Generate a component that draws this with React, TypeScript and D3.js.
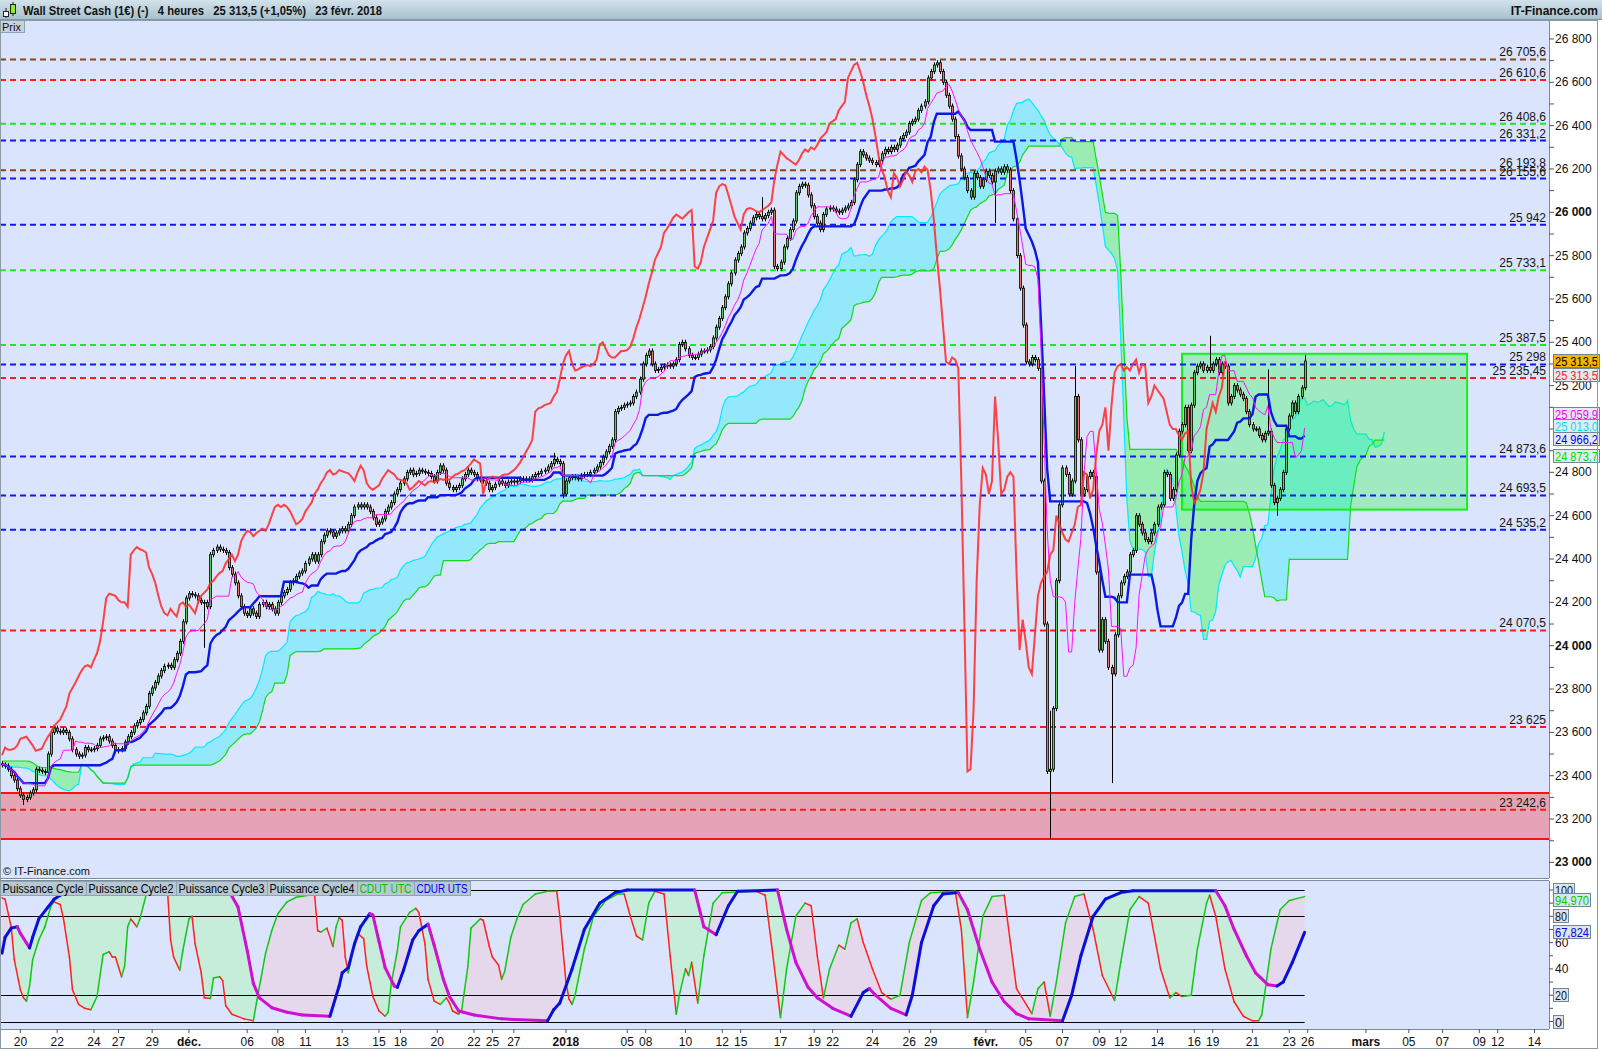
import * as d3 from "d3";

const FONT = "'Liberation Sans', Arial, sans-serif";

// 4h closes, 17 nov 2017 -> 23 feb 2018
const closes = [
  23450, 23445, 23430, 23400, 23380, 23340, 23310, 23290, 23300, 23320,
  23335, 23430, 23425, 23420, 23415, 23500, 23600, 23620, 23605, 23600,
  23610, 23600, 23570, 23520, 23500, 23490, 23495, 23530, 23520, 23520,
  23525, 23540, 23570, 23575, 23580, 23560, 23540, 23515, 23520, 23525,
  23555, 23580, 23600, 23630, 23645, 23660, 23690, 23720, 23780, 23805,
  23830, 23860, 23885, 23905, 23910, 23900, 23935, 23965, 24020, 24110,
  24220, 24240, 24235, 24230, 24210, 24200, 24200, 24180, 24420, 24440,
  24455, 24445, 24440, 24430, 24360, 24330, 24290, 24230, 24180, 24150,
  24140, 24170, 24150, 24135, 24190, 24200, 24180, 24190, 24170, 24150,
  24200, 24230, 24245, 24260, 24290, 24300, 24320, 24335, 24345, 24380,
  24400, 24420, 24390, 24420, 24480, 24510, 24530, 24525, 24505, 24520,
  24530, 24540, 24530, 24560, 24600, 24640, 24650, 24640, 24650, 24640,
  24620, 24590, 24560, 24570, 24585, 24620, 24640, 24660, 24700, 24720,
  24750, 24770, 24800, 24810, 24790, 24795, 24810, 24805, 24800, 24795,
  24780, 24760, 24800, 24830, 24810, 24750, 24730, 24720, 24730, 24740,
  24770, 24790, 24810, 24800, 24790, 24770, 24765, 24760, 24750, 24720,
  24730, 24745, 24760, 24750, 24740, 24755, 24760, 24755, 24760, 24770,
  24765, 24770, 24765, 24780, 24790, 24795, 24805, 24810, 24825, 24840,
  24860, 24850, 24840, 24700, 24760, 24775, 24780, 24775, 24770, 24785,
  24790, 24790, 24800, 24810, 24825, 24845, 24870, 24895, 24920, 24950,
  25080, 25095, 25100, 25110, 25115, 25120, 25150, 25170, 25230, 25300,
  25340, 25360, 25300, 25270, 25275, 25285, 25290, 25295, 25290, 25300,
  25320, 25390, 25400, 25370, 25340, 25330, 25330, 25345, 25360, 25360,
  25365, 25380, 25420, 25470, 25510, 25560, 25610, 25670, 25720, 25780,
  25810, 25840, 25905, 25925, 25950, 25975, 25990, 25980, 25970, 25985,
  26000, 26010, 25750, 25740, 25770, 25840, 25880, 25920, 25960, 26090,
  26120, 26130, 26125, 26080, 26030, 25980, 25950, 25920, 25990, 26015,
  26020, 26015, 26005, 26000, 26010, 26020, 26030, 26045, 26150, 26220,
  26280, 26265, 26250, 26240, 26230, 26220, 26240, 26270, 26290, 26280,
  26300, 26290, 26310, 26340, 26355, 26370, 26410, 26420, 26430, 26470,
  26490, 26510, 26620, 26650, 26680, 26690, 26650, 26600, 26540, 26490,
  26430, 26350, 26260, 26200, 26160, 26100, 26070, 26180, 26160, 26120,
  26150, 26190, 26170, 26140, 26190, 26200, 26185, 26210, 26195, 26100,
  25970, 25800, 25650, 25480, 25310, 25300, 25330, 25320, 25280, 24760,
  24100, 23420, 23430, 23710, 24300, 24650, 24820, 24790, 24700, 24760,
  25150, 24950, 24700, 24720, 24780, 24800, 24780, 24340, 23980, 24120,
  24020, 23900, 23870, 24050, 24230, 24290, 24320, 24340, 24420, 24440,
  24600, 24560, 24520, 24490, 24480, 24520, 24560, 24640, 24650, 24800,
  24790, 24680, 24720, 24880, 24990, 25020, 25100, 24900, 25110, 25260,
  25290, 25300, 25270, 25285, 25270, 25300, 25320, 25260, 25300, 25290,
  25120, 25150, 25200, 25180, 25160, 25140, 25080, 25020, 25000, 25000,
  24970, 24950, 24980, 24990, 24740, 24660, 24680, 24720, 24800, 25000,
  25060, 25120, 25080, 25150, 25190, 25313.5,
];
const firstOpen = 23455;

// notable shadows: [bar, high, low] (0 = ordinary)
const wicks: [number, number, number][] = [
  [7, 0, 23265], [66, 0, 23990], [183, 0, 24680], [180, 24890, 0], [248, 26070, 0],
  [324, 0, 25950], [342, 23700, 23110], [350, 25290, 0], [362, 0, 23366],
  [394, 25430, 0], [413, 25275, 0], [416, 0, 24600], [425, 25340, 0],
];

// cloud values for the first 26 bars (projected from before the window)
const spanAHead = [
  23445, 23445, 23445, 23440, 23440, 23440, 23438, 23436, 23435, 23430,
  23420, 23415, 23405, 23400, 23400, 23398, 23385, 23370, 23355, 23345,
  23338, 23332, 23330, 23340, 23355, 23360,
];
const spanBHead = [
  23468, 23468, 23468, 23468, 23468, 23468, 23468, 23468, 23468, 23466,
  23460, 23450, 23440, 23438, 23438, 23438, 23436, 23434, 23430, 23428,
  23425, 23420, 23418, 23416, 23416, 23416,
];

const levelValues = [26705.6, 26610.6, 26408.6, 26331.2, 26193.8, 26155.6, 25942, 25733.1, 25387.5, 25298, 25235.45, 24873.6, 24693.5, 24535.2, 24070.5, 23625, 23242.6];
const levelKinds = ["brown", "red", "green", "blue", "brown", "blue", "blue", "green", "green", "blue", "red", "blue", "blue", "blue", "red", "red", "red"];
const kindColor: Record<string, string> = { brown: "#8a4710", red: "#ff1a1a", green: "#1ee81e", blue: "#1414ff" };

// 25 000 is hidden behind the indicator tags in the original
const priceTicks = [23000, 23200, 23400, 23600, 23800, 24000, 24200, 24400, 24600, 24800, 25200, 25400, 25600, 25800, 26000, 26200, 26400, 26600, 26800];
const boldTicks = [23000, 24000, 26000];

const dateTicks: [string, number, boolean][] = [
  ["20", 6, false], ["22", 18, false], ["24", 30, false], ["27", 38, false], ["29", 49, false],
  ["déc.", 61, true], ["06", 80, false], ["08", 90, false], ["11", 99, false], ["13", 111, false],
  ["15", 123, false], ["18", 130, false], ["20", 142, false], ["22", 154, false], ["25", 160, false],
  ["27", 167, false], ["2018", 184, true], ["05", 204, false], ["08", 210, false], ["10", 223, false],
  ["12", 235, false], ["15", 241, false], ["17", 254, false], ["19", 265, false], ["22", 271, false],
  ["24", 284, false], ["26", 296, false], ["29", 303, false], ["févr.", 321, true], ["05", 334, false],
  ["07", 346, false], ["09", 358, false], ["12", 365, false], ["14", 377, false], ["16", 389, false],
  ["19", 395, false], ["21", 408, false], ["23", 420, false], ["26", 426, false], ["mars", 445, true],
  ["05", 459, false], ["07", 470, false], ["09", 482, false], ["12", 488, false], ["14", 500, false],
];

// oscillator: fast cycle (green up / red down), slow cycle (blue up / magenta down)
const fastPts: [number, number][] = [
  [0, 94], [1, 93], [3, 72], [4, 47], [6, 24], [7, 18], [8, 15.5], [9, 27], [10, 47], [12, 62], [14, 72], [16, 88], [17, 91],
  [19, 89], [20, 79], [22, 49], [23, 24], [25, 13], [27, 10], [29, 9], [31, 19], [33, 51], [35, 53], [36, 49], [37, 49],
  [39, 34], [40, 42], [41, 72], [42, 78], [44, 72], [45, 78], [47, 96], [48, 99.5], [54, 99.5], [55, 62], [56, 49], [58, 39],
  [59, 54], [61, 78], [62, 80], [63, 59], [65, 37], [66, 18], [68, 17.5], [69, 33], [71, 34], [72, 31], [73, 12], [75, 5.5],
  [79, 2], [82, 0.5], [83, 14], [86, 52], [88, 69], [90, 82], [93, 91], [96, 94.5], [100, 96], [102, 96], [103, 69], [104, 68],
  [106, 71], [108, 57], [109, 72], [110, 79], [111, 77], [112, 49], [113, 37], [115, 60], [116, 67], [118, 63], [119, 42],
  [121, 19], [123, 8], [125, 4], [126, 7], [127, 29], [129, 54], [130, 72], [133, 83], [135, 86], [136, 83], [138, 59],
  [139, 32], [141, 15.5], [143, 13], [145, 18], [146, 14], [147, 8], [149, 5.5], [150, 9], [152, 42], [153, 71], [156, 78],
  [157, 77], [159, 57], [160, 49], [162, 43], [163, 32], [164, 38], [166, 64], [168, 78], [170, 89], [174, 97], [178, 99],
  [181, 99], [182, 80], [183, 55], [184, 30], [185, 17], [186, 13], [187, 20], [190, 55], [193, 80], [197, 92], [201, 97],
  [203, 97], [205, 80], [207, 65], [209, 62], [211, 90], [213, 99], [216, 97], [218, 50], [220, 5.5], [221, 20], [223, 40],
  [224, 35], [225, 45], [227, 14], [229, 50], [232, 90], [235, 98], [246, 99], [249, 96], [251, 60], [254, 3], [256, 40],
  [259, 80], [262, 90], [264, 88], [266, 50], [268, 18], [270, 40], [273, 58], [275, 55], [277, 75], [279, 78], [281, 60],
  [284, 40], [287, 22], [290, 17], [293, 20], [296, 60], [300, 92], [303, 98], [311, 99], [313, 70], [315, 3], [317, 30],
  [320, 80], [323, 95], [327, 96], [329, 60], [331, 25], [336, 6], [338, 25], [340, 30], [342, 4], [344, 30], [347, 75],
  [350, 95], [353, 97], [356, 70], [359, 35], [363, 16], [365, 45], [368, 85], [371, 95], [374, 90], [378, 40], [381, 18],
  [383, 22], [385, 19], [388, 20], [390, 55], [393, 90], [394, 96], [396, 80], [399, 40], [402, 15], [405, 4], [408, 0.5],
  [410, 0.5], [411, 5], [414, 55], [417, 85], [420, 92], [425, 94.97],
];
const slowPts: [number, number][] = [
  [0, 52], [1, 64], [3, 71], [5, 72], [6, 67], [9, 56], [10, 64], [12, 78], [15, 87], [17, 93], [19, 96], [22, 99.5],
  [74, 99.5], [77, 87], [80, 54], [82, 29], [84, 18], [88, 10.5], [93, 7], [98, 5], [107, 4], [110, 27], [111, 37], [113, 41],
  [115, 59], [117, 72], [120, 82], [121, 81], [123, 61], [125, 41], [128, 27], [129, 26], [131, 39], [134, 62], [136, 69],
  [139, 74], [141, 58], [144, 32], [146, 19], [149, 8], [154, 5], [163, 2], [178, 0.5], [180, 9], [182, 14], [186, 40],
  [190, 70], [195, 90], [200, 98], [204, 100], [226, 100], [229, 72], [233, 66], [237, 88], [240, 99], [253, 100], [256, 70],
  [259, 45], [263, 26], [266, 18], [271, 10], [277, 4], [281, 22], [283, 25], [285, 20], [290, 10], [295, 5], [297, 20],
  [300, 60], [304, 88], [307, 97], [312, 98], [315, 85], [319, 55], [323, 30], [327, 15], [331, 6], [335, 2], [346, 0.5],
  [349, 20], [352, 50], [356, 80], [360, 93], [365, 98], [369, 99.5], [396, 99.5], [399, 88], [402, 70], [406, 50],
  [409, 37], [413, 28], [416, 27], [418, 30], [421, 45], [425, 67.82],
];
const oscLines = [100, 80, 20, 0];
const oscTicks = [0, 10, 20, 30, 40, 50, 60, 70, 80, 90, 100];
const legendTabs = ["Puissance Cycle", "Puissance Cycle2", "Puissance Cycle3", "Puissance Cycle4", "CDUT UTC", "CDUR UTS"];
const legendColors = ["#000", "#000", "#000", "#000", "#00c000", "#0000ee"];
const legendWidths = [86, 90, 91, 90, 57, 56];

const zone = [23108, 23320];
const box = { from: 385, to: 478, top: 25347, bottom: 24628 };

const W = 1602;
const AXIS_X = 1549;
const MAIN_TOP = 20;
const MAIN_BOTTOM = 878;
const OSC_TOP = 881;
const OSC_BOTTOM = 1029;
const BG = "#dae4fc";

const x = d3.scaleLinear().domain([0, 500]).range([2, 2 + 500 * 3.065]);
const y = d3.scaleLinear().domain([23000, 26000]).range([862.4, 212.3]);
const yo = d3.scaleLinear().domain([0, 100]).range([1021.5, 890]);

const wickMap = new Map(wicks.map((w) => [w[0], w]));
const bars = closes.map((c, i) => {
  const o = i === 0 ? firstOpen : closes[i - 1];
  let h = Math.max(o, c) + 12;
  let l = Math.min(o, c) - 12;
  const w = wickMap.get(i);
  if (w) {
    if (w[1]) h = w[1];
    if (w[2]) l = w[2];
  }
  return { i, o, c, h, l };
});

function mid(i: number, n: number) {
  const s = bars.slice(Math.max(0, i - n + 1), i + 1);
  return ((d3.max(s, (d) => d.h) as number) + (d3.min(s, (d) => d.l) as number)) / 2;
}
const tenkan = bars.map((b) => mid(b.i, 9));
const kijun = bars.map((b) => mid(b.i, 26));
const spanA = [...spanAHead, ...bars.map((b) => (tenkan[b.i] + kijun[b.i]) / 2)];
const spanB = [...spanBHead, ...bars.map((b) => mid(b.i, 52))];
const chikou = closes.slice(26);

function frNum(v: number) {
  const [ip, dp] = String(v).split(".");
  const n = Number(ip);
  const s = n >= 1000 ? `${Math.floor(n / 1000)} ${String(n % 1000).padStart(3, "0")}` : ip;
  return dp ? `${s},${dp}` : s;
}

function Segments({ pts, up, down, width }: { pts: [number, number][]; up: string; down: string; width: number }) {
  let last = up;
  return (
    <g>
      {pts.slice(1).map((p, k) => {
        const q = pts[k];
        const col = p[1] > q[1] ? up : p[1] < q[1] ? down : last;
        last = col;
        return (
          <line key={k} x1={x(q[0])} y1={yo(q[1])} x2={x(p[0])} y2={yo(p[1])} stroke={col} strokeWidth={width} strokeLinecap="round" />
        );
      })}
    </g>
  );
}

function Tag({ x0, yc, text, color, bg, w }: { x0: number; yc: number; text: string; color: string; bg: string; w: number }) {
  return (
    <g>
      <rect x={x0 + 0.5} y={Math.round(yc - 7) + 0.5} width={w} height={13} fill={bg} stroke="#6f8797" strokeWidth={1} />
      <text x={x0 + 2} y={Math.round(yc - 7) + 11.5} fontSize={12} fontFamily={FONT} fill={color} textLength={w - 3} lengthAdjust="spacingAndGlyphs">
        {text}
      </text>
    </g>
  );
}

export default function App() {
  const lineA = d3.line<number>().x((_, j) => x(j)).y((d) => y(d));
  const cyanArea = d3.area<number>().x((_, j) => x(j)).y0((_, j) => y(spanB[j])).y1((d, j) => y(Math.max(d, spanB[j])));
  const greenArea = d3.area<number>().x((_, j) => x(j)).y0((_, j) => y(spanA[j])).y1((d, j) => y(Math.max(d, spanA[j])));
  const barLine = d3.line<number>().x((_, i) => x(i)).y((d) => y(d));

  const below = d3.area<[number, number]>().x((d) => x(d[0])).y0(yo(-5)).y1((d) => yo(d[1]));
  const above = d3.area<[number, number]>().x((d) => x(d[0])).y0(yo(105)).y1((d) => yo(d[1]));

  const tabX = legendWidths.map((_, k) => d3.sum(legendWidths.slice(0, k)));

  return (
    <svg width={W} height={1050} style={{ position: "absolute", left: 0, top: 0, background: "#fff" }}>
      <defs>
        <linearGradient id="hdr" x1="0" y1="0" x2="0" y2="1">
          <stop offset="0" stopColor="#d2e2ea" />
          <stop offset="1" stopColor="#a6c0cc" />
        </linearGradient>
        <clipPath id="mainClip">
          <rect x={0} y={MAIN_TOP} width={AXIS_X} height={MAIN_BOTTOM - MAIN_TOP} />
        </clipPath>
        <clipPath id="oscClip">
          <rect x={0} y={OSC_TOP} width={AXIS_X} height={OSC_BOTTOM - OSC_TOP} />
        </clipPath>
        <clipPath id="aboveFast">
          <path d={above(fastPts) || ""} />
        </clipPath>
        <clipPath id="aboveSlow">
          <path d={above(slowPts) || ""} />
        </clipPath>
      </defs>

      {/* header */}
      <rect x={0} y={0} width={W} height={20} fill="url(#hdr)" />
      <line x1={0} y1={19.5} x2={W} y2={19.5} stroke="#7f98a6" />
      <g>
        <line x1={6} y1={8} x2={6} y2={18} stroke="#222" />
        <rect x={3.5} y={11.5} width={5} height={5} fill="#fff" stroke="#222" />
        <line x1={13} y1={2} x2={13} y2={16} stroke="#222" />
        <rect x={10.5} y={4.5} width={5} height={9} fill="#8ef02a" stroke="#222" />
      </g>
      <text x={23} y={15} fontSize={12} fontWeight="bold" fontFamily={FONT} fill="#111" textLength={359} lengthAdjust="spacingAndGlyphs" style={{ whiteSpace: "pre" }}>
        {"Wall Street Cash (1€) (-)   4 heures   25 313,5 (+1,05%)   23 févr. 2018"}
      </text>
      <text x={1598} y={15} fontSize={12} fontWeight="bold" fontFamily={FONT} fill="#111" textAnchor="end">IT-Finance.com</text>

      {/* main panel */}
      <rect x={0} y={MAIN_TOP} width={AXIS_X} height={MAIN_BOTTOM - MAIN_TOP} fill={BG} />
      <g clipPath="url(#mainClip)">
        <rect x={0} y={y(zone[1])} width={AXIS_X} height={y(zone[0]) - y(zone[1])} fill="rgba(255,0,0,0.28)" />
        <line x1={0} x2={AXIS_X} y1={y(zone[1])} y2={y(zone[1])} stroke="#ff1010" strokeWidth={2} />
        <line x1={0} x2={AXIS_X} y1={y(zone[0])} y2={y(zone[0])} stroke="#ff1010" strokeWidth={2} />

        <path d={cyanArea(spanA) || ""} fill="#93e9fb" />
        <path d={greenArea(spanB) || ""} fill="#99ecb2" />
        <path d={lineA(spanA) || ""} fill="none" stroke="#00eaff" strokeWidth={1.2} />
        <path d={lineA(spanB) || ""} fill="none" stroke="#12dc12" strokeWidth={1.2} />

        <rect x={x(box.from)} y={y(box.top)} width={x(box.to) - x(box.from)} height={y(box.bottom) - y(box.top)} fill="rgba(0,250,30,0.27)" stroke="#18ee18" strokeWidth={2} />

        {levelValues.map((v, k) => (
          <g key={k}>
            <line x1={0} x2={AXIS_X} y1={y(v)} y2={y(v)} stroke={kindColor[levelKinds[k]]} strokeWidth={2} strokeDasharray="6 4" />
            <text x={1546} y={y(v) - 3} fontSize={12} fontFamily={FONT} fill="#151515" textAnchor="end">{frNum(v)}</text>
          </g>
        ))}

        {bars.map((b) => {
          const cx = Math.round(x(b.i));
          const top = y(Math.max(b.o, b.c));
          const h = Math.max(1, Math.abs(y(b.o) - y(b.c)));
          return (
            <g key={b.i}>
              <line x1={cx + 0.5} x2={cx + 0.5} y1={y(b.h)} y2={y(b.l)} stroke="#000" strokeWidth={1} />
              <rect x={cx - 0.5} y={top} width={2} height={h} fill={b.c >= b.o ? "#5fc85f" : "#e0796c"} stroke="#000" strokeWidth={0.8} />
            </g>
          );
        })}

        <path d={barLine(kijun) || ""} fill="none" stroke="#0c18e4" strokeWidth={2.4} />
        <path d={barLine(tenkan) || ""} fill="none" stroke="#ff10ff" strokeWidth={1} />
        <path d={barLine(chikou) || ""} fill="none" stroke="#ff3030" strokeWidth={2} strokeOpacity={0.9} />
      </g>
      <text x={3} y={875} fontSize={11} fontFamily={FONT} fill="#111">© IT-Finance.com</text>
      <rect x={0.5} y={20.5} width={24} height={12} fill="#c6d3dc" stroke="#8da2b0" />
      <text x={2} y={30.5} fontSize={11} fontFamily={FONT} fill="#111">Prix</text>

      {/* price axis */}
      <line x1={AXIS_X + 0.5} x2={AXIS_X + 0.5} y1={MAIN_TOP} y2={MAIN_BOTTOM} stroke="#7a8c99" />
      <line x1={0} x2={AXIS_X} y1={MAIN_BOTTOM + 0.5} y2={MAIN_BOTTOM + 0.5} stroke="#7a8c99" />
      {d3.range(23000, 26801, 100).map((v) => (
        <line key={v} x1={AXIS_X} x2={AXIS_X + 5} y1={y(v)} y2={y(v)} stroke="#555" />
      ))}
      {priceTicks.map((v) => (
        <text key={v} x={AXIS_X + 6} y={y(v) + 4} fontSize={12} fontFamily={FONT} fontWeight={boldTicks.includes(v) ? "bold" : "normal"} fill="#111">
          {frNum(v)}
        </text>
      ))}
      <Tag x0={1553} yc={y(25313.5)} text="25 313,5" color="#000" bg="#f5b500" w={46} />
      <Tag x0={1553} yc={y(25313.5) + 14} text="25 313,5" color="#ff2020" bg="#e3eaf2" w={46} />
      <Tag x0={1553} yc={y(25059.9) - 2} text="25 059,9" color="#ff00ff" bg="#e3eaf2" w={46} />
      <Tag x0={1553} yc={y(25013.0)} text="25 013,0" color="#00e0f0" bg="#e3eaf2" w={46} />
      <Tag x0={1553} yc={y(24966.2) + 3} text="24 966,2" color="#0000ee" bg="#e3eaf2" w={46} />
      <Tag x0={1553} yc={y(24873.7)} text="24 873,7" color="#00dd00" bg="#e3eaf2" w={46} />

      {/* oscillator panel */}
      <rect x={0} y={OSC_TOP} width={AXIS_X} height={OSC_BOTTOM - OSC_TOP} fill={BG} />
      <g clipPath="url(#oscClip)">
        <path d={below(slowPts) || ""} fill="#c6ecda" clipPath="url(#aboveFast)" />
        <path d={below(fastPts) || ""} fill="#e6d8ec" clipPath="url(#aboveSlow)" />
        {oscLines.map((v) => (
          <line key={v} x1={0} x2={x(425)} y1={Math.round(yo(v)) + 0.5} y2={Math.round(yo(v)) + 0.5} stroke="#000" strokeWidth={1} />
        ))}
        <Segments pts={fastPts} up="#10c810" down="#ff2020" width={1.5} />
        <Segments pts={slowPts} up="#0a10d8" down="#d010d0" width={3} />
      </g>
      {legendTabs.map((t, k) => (
        <g key={t}>
          <rect x={tabX[k] + 0.5} y={OSC_TOP + 0.5} width={legendWidths[k]} height={14} fill="#b8c8d2" stroke="#8ea2b0" />
          <text x={tabX[k] + 2.5} y={OSC_TOP + 12} fontSize={12} fontFamily={FONT} fill={legendColors[k]} textLength={legendWidths[k] - 5} lengthAdjust="spacingAndGlyphs">{t}</text>
        </g>
      ))}
      <line x1={AXIS_X + 0.5} x2={AXIS_X + 0.5} y1={OSC_TOP} y2={OSC_BOTTOM} stroke="#7a8c99" />
      <line x1={0} x2={AXIS_X} y1={OSC_TOP - 0.5} y2={OSC_TOP - 0.5} stroke="#7a8c99" />
      <line x1={0} x2={AXIS_X} y1={OSC_BOTTOM + 0.5} y2={OSC_BOTTOM + 0.5} stroke="#7a8c99" />
      {oscTicks.map((v) => (
        <line key={v} x1={AXIS_X} x2={AXIS_X + 4} y1={yo(v)} y2={yo(v)} stroke="#555" />
      ))}
      <text x={1555} y={yo(60) + 4} fontSize={12} fontFamily={FONT} fill="#111">60</text>
      <text x={1555} y={yo(40) + 4} fontSize={12} fontFamily={FONT} fill="#111">40</text>
      <Tag x0={1553} yc={yo(100)} text="100" color="#111" bg="#dce5ef" w={21} />
      <Tag x0={1553} yc={yo(94.97) + 3} text="94,970" color="#00cc00" bg="#dce5ef" w={37} />
      <Tag x0={1553} yc={yo(80)} text="80" color="#111" bg="#dce5ef" w={15} />
      <Tag x0={1553} yc={yo(67.824)} text="67,824" color="#0000dd" bg="#dce5ef" w={37} />
      <Tag x0={1553} yc={yo(20)} text="20" color="#111" bg="#dce5ef" w={15} />
      <Tag x0={1553} yc={yo(0)} text="0" color="#111" bg="#dce5ef" w={10} />

      {/* time axis */}
      {dateTicks.map(([t, i, b], k) => (
        <g key={k}>
          <line x1={x(i)} x2={x(i)} y1={OSC_BOTTOM} y2={OSC_BOTTOM + 4} stroke="#555" />
          <text x={x(i)} y={1046} fontSize={12} fontFamily={FONT} fontWeight={b ? "bold" : "normal"} fill="#111" textAnchor="middle">{t}</text>
        </g>
      ))}
      <rect x={0.5} y={20.5} width={1597} height={1028} fill="none" stroke="#8a9aa6" />
    </svg>
  );
}
